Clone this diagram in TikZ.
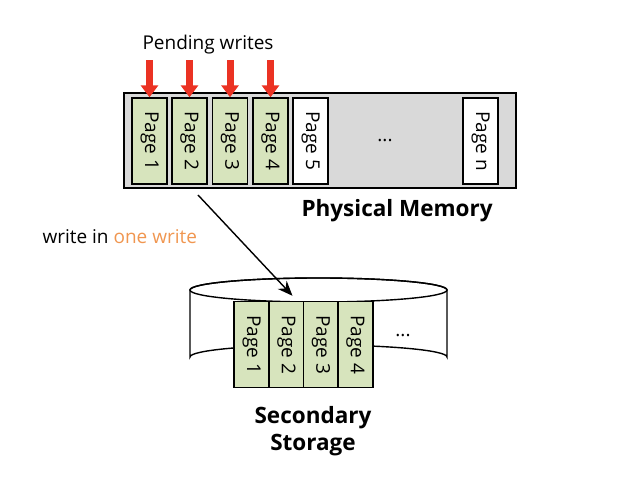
\documentclass[tikz,border=0pt]{standalone}
\usepackage{fontspec}
\setmainfont{Open Sans}
\usetikzlibrary{arrows.meta,calc}

\definecolor{pagegreen}{RGB}{215,228,189}
\definecolor{onewrite}{RGB}{240,150,80}
\definecolor{pendred}{RGB}{235,50,35}

\tikzset{
  page/.style={draw, line width=1.4pt, minimum width=35pt, minimum height=86pt, inner sep=0pt, font=\fontsize{19}{22}\selectfont},
  used/.style={page, fill=pagegreen},
  free/.style={page, fill=white},
  pending/.style={pendred, line width=7pt, -{Triangle[width=17pt,length=12pt]}},
  plain/.style={font=\fontsize{19}{22}\selectfont},
  title/.style={font=\fontsize{22.5}{27}\selectfont\bfseries, align=center}
}

\begin{document}
\begin{tikzpicture}[x=1pt, y=-1pt]
        \useasboundingbox (0,0) rectangle (630,486);

        % Physical memory
        \node[draw, line width=1.4pt, fill=black!15, minimum width=392pt, minimum height=95pt, inner sep=0pt] (mem) at (320,140.5) {};
        \node[used] (m1) at (149.5,141) {\rotatebox{-90}{Page 1}};
        \node[used] (m2) at (189.5,141) {\rotatebox{-90}{Page 2}};
        \node[used] (m3) at (230,141) {\rotatebox{-90}{Page 3}};
        \node[used] (m4) at (270.5,141) {\rotatebox{-90}{Page 4}};
        \node[free] (m5) at (310.5,141) {\rotatebox{-90}{Page 5}};
        \node[free] (mn) at (480.5,141) {\rotatebox{-90}{Page n}};
        \node[plain] (mdots) at (385,141) {...};
        \node[title, anchor=west] (memlabel) at (298,211) {Physical Memory};

        % Pending writes
        \node[plain] (pend) at (208,45) {Pending writes};
        \draw[pending] ($(m1.north)+(0,-37)$) -- (m1.north);
        \draw[pending] ($(m2.north)+(0,-37)$) -- (m2.north);
        \draw[pending] ($(m3.north)+(0,-37)$) -- (m3.north);
        \draw[pending] ($(m4.north)+(0,-37)$) -- (m4.north);

        % Secondary storage
        \draw[line width=1.4pt, fill=white] (190,290) -- (190,357) arc[start angle=180, end angle=360, x radius=128.5, y radius=12] -- (447,290) arc[start angle=0, end angle=-180, x radius=128.5, y radius=12] -- cycle;
        \draw[line width=1.4pt] (318.5,290) ellipse[x radius=128.5, y radius=12];
        \node[used] (d1) at (251.5,344.5) {\rotatebox{-90}{Page 1}};
        \node[used] (d2) at (286.5,344.5) {\rotatebox{-90}{Page 2}};
        \node[used] (d3) at (321,344.5) {\rotatebox{-90}{Page 3}};
        \node[used] (d4) at (355.5,344.5) {\rotatebox{-90}{Page 4}};
        \node[plain] (ddots) at (403,336) {...};
        \node[title] (disklabel) at (313,431) {Secondary\\Storage};

        % One write
        \node[plain, anchor=west] (onelabel) at (39,237) {write in \textcolor{onewrite}{one write}};
        \coordinate (src) at (198,195);
        \coordinate (dst) at ($(d2.north)+(6,-5)$);
        \draw[line width=1.4pt, -{Stealth[length=15pt,width=12pt]}] (src) -- (dst);
    \end{tikzpicture}
\end{document}
